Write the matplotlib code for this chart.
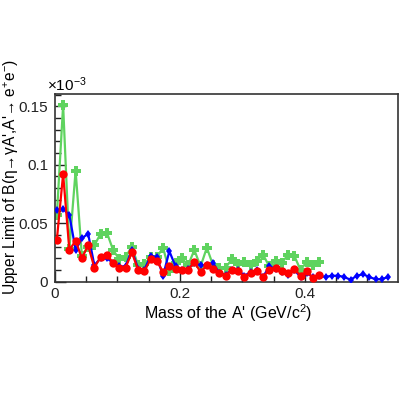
import matplotlib
matplotlib.use("Agg")
import matplotlib.pyplot as plt
import numpy as np
from matplotlib.ticker import MultipleLocator, FuncFormatter

plt.rcParams['font.family'] = ['Liberation Sans', 'DejaVu Sans']
plt.rcParams['mathtext.fontset'] = 'custom'
plt.rcParams['mathtext.rm'] = 'Liberation Sans'
plt.rcParams['mathtext.default'] = 'regular'

# mass points (GeV/c^2), limits in units of 1e-3
mass = np.round(0.003 + 0.01 * np.arange(54), 3)

green = [0.057, 0.151, 0.028, 0.095, 0.022, 0.030, 0.031, 0.041, 0.042, 0.027,
         0.019, 0.021, 0.030, 0.014, 0.015, 0.021, 0.021, 0.029, 0.009, 0.016,
         0.020, 0.014, 0.027, 0.013, 0.029, 0.014, 0.012, 0.012, 0.019, 0.015,
         0.017, 0.014, 0.018, 0.023, 0.013, 0.018, 0.016, 0.023, 0.022, 0.010,
         0.017, 0.014, 0.017]

blue = [0.061, 0.062, 0.057, 0.027, 0.037, 0.041, 0.014, 0.020, 0.020, 0.016,
        0.013, 0.013, 0.027, 0.011, 0.010, 0.022, 0.021, 0.005, 0.026, 0.013,
        0.010, 0.011, 0.016, 0.014, 0.014, 0.016, 0.007, 0.006, 0.010, 0.010,
        0.005, 0.008, 0.010, 0.004, 0.013, 0.011, 0.008, 0.006, 0.010, 0.004,
        0.007, 0.004, 0.005, 0.004, 0.005, 0.005, 0.004, 0.0015, 0.005, 0.0063,
        0.004, 0.002, 0.002, 0.004]

red = [0.036, 0.092, 0.027, 0.035, 0.020, 0.031, 0.012, 0.021, 0.023, 0.016,
       0.012, 0.012, 0.025, 0.010, 0.009, 0.019, 0.018, 0.008, 0.013, 0.011,
       0.010, 0.010, 0.017, 0.008, 0.014, 0.011, 0.007, 0.005, 0.010, 0.009,
       0.004, 0.007, 0.009, 0.004, 0.010, 0.012, 0.009, 0.007, 0.011, 0.005,
       0.009, 0.003, 0.006]

fig = plt.figure(figsize=(4, 4), dpi=100)
ax = fig.add_axes([0.1375, 0.296, 0.8575, 0.469])

ax.plot(mass[:len(green)], green, color='#5fd35f', lw=1.6, marker='P',
        ms=6.5, mew=0, zorder=2)
ax.plot(mass[:len(blue)], blue, color='#0000ff', lw=1.6, marker='d',
        ms=4.5, mew=0, zorder=3)
ax.plot(mass[:len(red)], red, color='#ff0000', lw=1.6, marker='o',
        ms=6, mew=0, zorder=4)

ax.set_xlim(0, 0.549)
ax.set_ylim(0, 0.1605)

ax.set_xticks([0, 0.2, 0.4])
ax.xaxis.set_minor_locator(MultipleLocator(0.05))
ax.set_yticks([0, 0.05, 0.1, 0.15])
ax.yaxis.set_minor_locator(MultipleLocator(0.01))
fmt = FuncFormatter(lambda v, p: '%g' % round(v, 3))
ax.xaxis.set_major_formatter(fmt)
ax.yaxis.set_major_formatter(fmt)

ax.tick_params(which='both', direction='in', top=False, right=False,
               labelsize=11, colors='#222222')
ax.tick_params(which='major', length=8, width=1)
ax.tick_params(which='minor', length=4, width=1)
ax.tick_params(axis='x', pad=4)
ax.tick_params(axis='y', pad=5)
for s in ax.spines.values():
    s.set_linewidth(1.2)
    s.set_color('#333333')

fig.text(0.117, 0.764, r'$\times$10$^{-3}$', fontsize=11, ha='left', va='bottom')
fig.text(0.57, 0.217, "Mass of the A' (GeV/c$^{2}$)", fontsize=11.5,
         ha='center', va='center')
fig.text(0.028, 0.853, "Upper Limit of B(η→γA',A'→ e$^{+}$e$^{-}$)",
         fontsize=11.2, rotation=90, ha='center', va='top')

fig.savefig('out.png', dpi=100)
